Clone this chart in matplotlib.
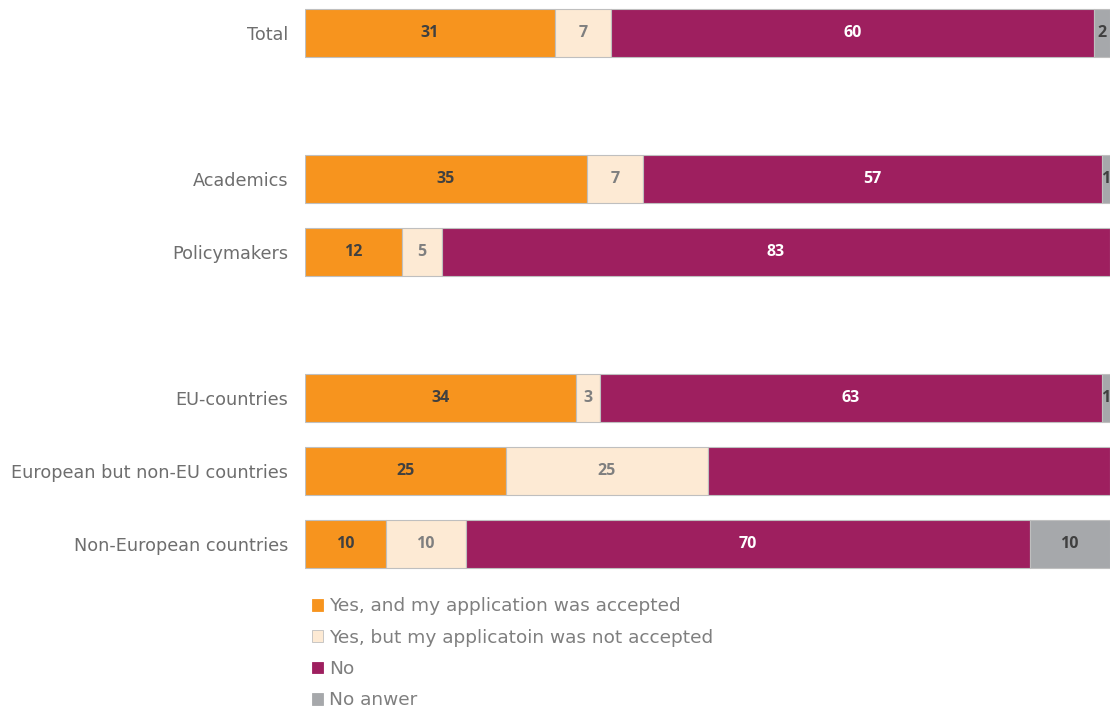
import matplotlib
matplotlib.use("Agg")
import matplotlib.pyplot as plt
from matplotlib.patches import Patch

plt.rcParams['font.family'] = ['DejaVu Sans']

# Groups (None = spacer row between groups)
groups = ["Total", None, "Academics", "Policymakers", None,
          "EU-countries", "European but non-EU countries", "Non-European countries"]

series_names = ["Yes, and my application was accepted",
                "Yes, but my applicatoin was not accepted",
                "No",
                "No anwer"]

accepted     = [31, None, 35, 12, None, 34, 25, 10]
not_accepted = [7,  None, 7,  5,  None, 3,  25, 10]
no           = [60, None, 57, 83, None, 63, 50, 70]
no_answer    = [2,  None, 1,  0,  None, 1,  0,  10]

# Whether the "No" segment carries a value label
show_no_label = [True, None, True, True, None, True, False, True]

colors = ["#F7941E", "#FDEAD4", "#9E1F5F", "#A6A8AB"]
label_colors = ["#404040", "#7F7F7F", "#FFFFFF", "#404040"]

fig = plt.figure(figsize=(11.1, 7.14), dpi=100)
ax = fig.add_axes([305 / 1110, 1 - 580 / 714, 1 - 305 / 1110, 580 / 714])

series = [accepted, not_accepted, no, no_answer]
bar_h = 0.66
for i, g in enumerate(groups):
    if g is None:
        continue
    # rounded percentages may not add to exactly 100; scale the row to full width
    row_total = sum(s[i] for s in series)
    left = 0.0
    for s_idx, s in enumerate(series):
        v = s[i]
        if not v:
            continue
        w = v * 100.0 / row_total
        ax.barh(i, w, left=left, height=bar_h, color=colors[s_idx],
                edgecolor="#BFBFBF", linewidth=0.8)
        if s_idx != 2 or show_no_label[i]:
            ax.text(left + w / 2, i, f"{v}", ha="center", va="center",
                    fontsize=11.5, fontweight="bold", color=label_colors[s_idx],
                    family=['Open Sans', 'DejaVu Sans'])
        left += w

ax.set_xlim(0, 100)
ax.set_ylim(7.49, -0.452)
ax.set_yticks([i for i, g in enumerate(groups) if g is not None])
ax.set_yticklabels([g for g in groups if g is not None], fontsize=12.7, color="#6E6E6E")
ax.tick_params(axis="y", length=0, pad=12)
ax.set_xticks([])
for sp in ax.spines.values():
    sp.set_visible(False)

handles = [Patch(facecolor=c, edgecolor="#BFBFBF" if c == "#FDEAD4" else c, linewidth=0.6)
           for c in colors]
leg = fig.legend(handles, series_names, loc="upper left",
                 bbox_to_anchor=(305 / 1110, 1 - 590 / 714), frameon=False,
                 fontsize=13.3, handlelength=0.6, handleheight=0.6,
                 handletextpad=0.3, labelspacing=0.72, borderaxespad=0)
for t in leg.get_texts():
    t.set_color("#7F7F7F")

fig.savefig("out.png", dpi=100)
